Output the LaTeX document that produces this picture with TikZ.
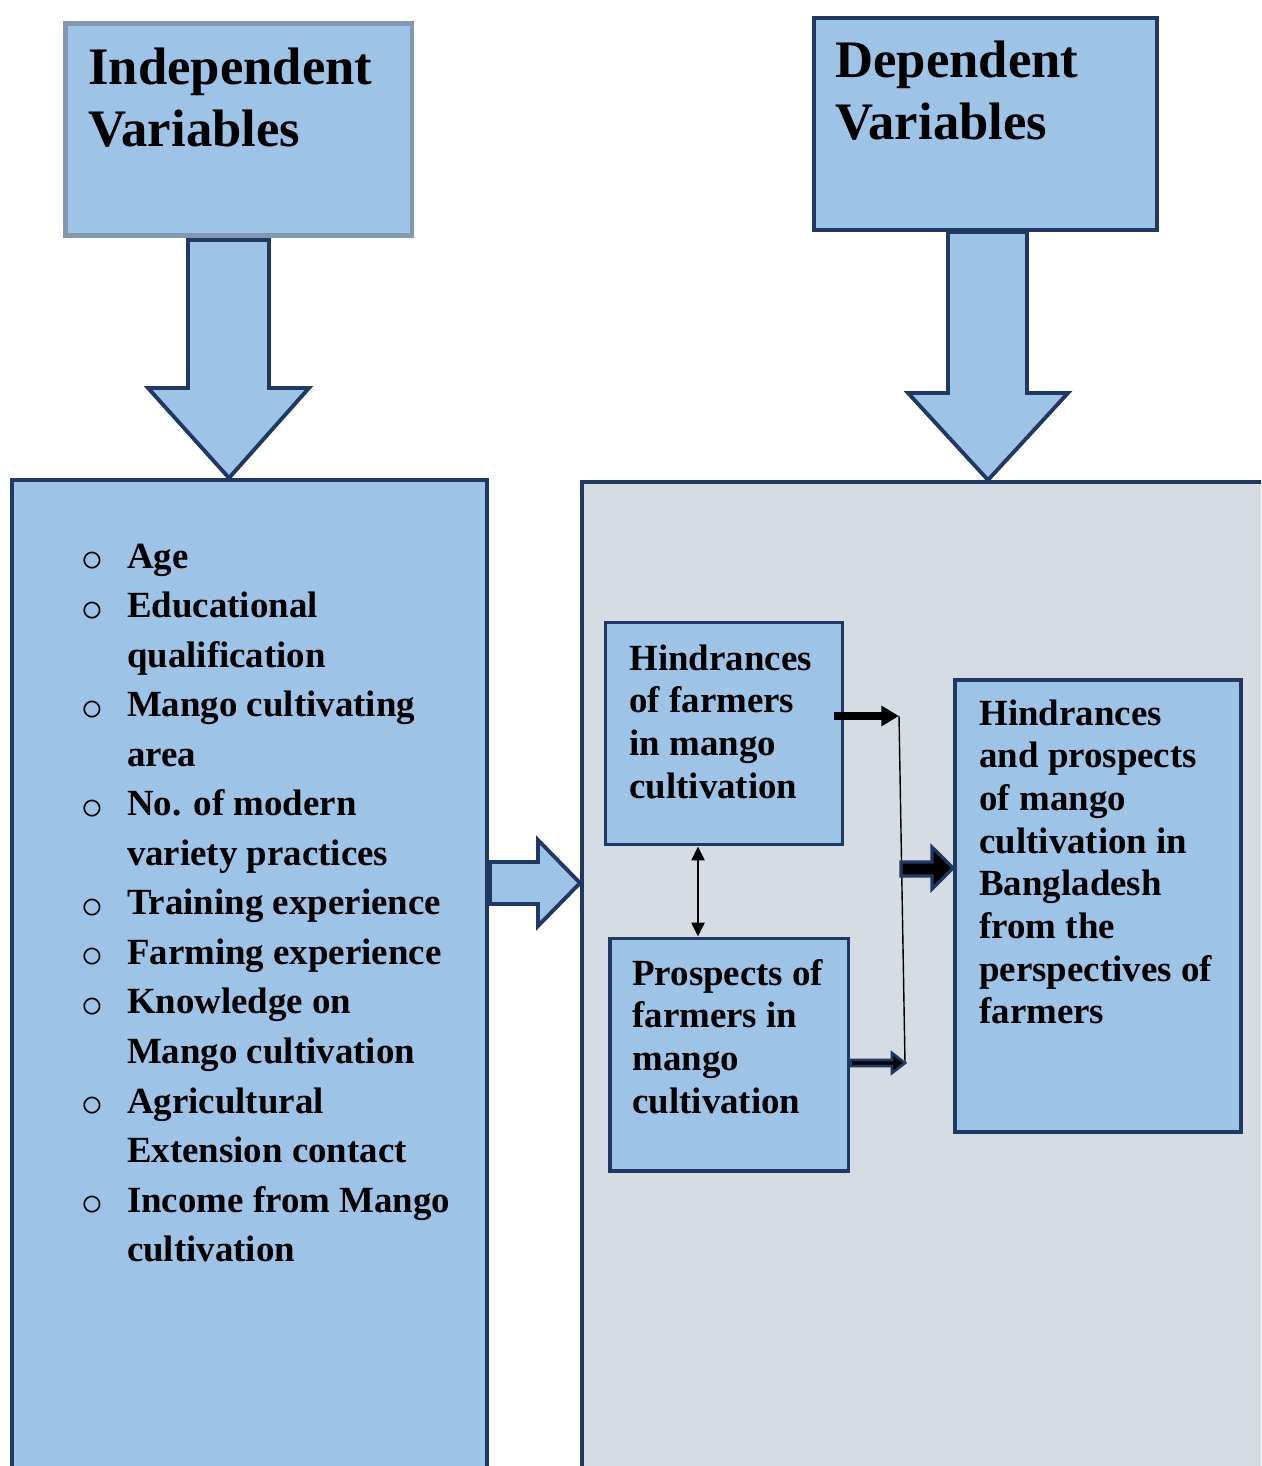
\documentclass[tikz,border=0pt]{standalone}
\usepackage{fontspec}
\setmainfont{Liberation Serif}
\usetikzlibrary{arrows.meta,calc,fit}
\definecolor{boxblue}{HTML}{9DC3E6}
\definecolor{navyline}{HTML}{203864}
\definecolor{greyline}{HTML}{8497B0}
\definecolor{panelgrey}{HTML}{D6DCE4}
\def\chartline{2.2pt}
\def\chartbullet{\raisebox{-2pt}{\fontsize{24}{28}\selectfont$\circ$}}

\begin{document}
\begin{tikzpicture}[
            x=0.02cm, y=-0.02cm,
            varbox/.style={%
                rectangle, draw=navyline, fill=boxblue,%
                line width=\chartline, inner sep=0pt%
            },
            panel/.style={%
                rectangle, draw=navyline, fill=panelgrey,%
                line width=\chartline, inner sep=0pt%
            },
            blockarrow/.style={%
                draw=navyline, fill=boxblue, line width=\chartline, line join=miter%
            },
            titletext/.style={%
                anchor=base west, inner sep=0pt,%
                font=\fontsize{30}{35}\selectfont\bfseries%
            },
            listtext/.style={%
                anchor=base west, inner sep=0pt,%
                font=\fontsize{21}{28.2}\selectfont\bfseries%
            },
            boxtext/.style={%
                anchor=base west, inner sep=0pt,%
                font=\fontsize{21}{24.3}\selectfont\bfseries%
            },
            thickarrow/.style={line width=5pt,-{Triangle[length=10pt,width=11pt]}},
            dblarrow/.style={line width=1.1pt,%
                {Triangle[length=8pt,width=7.5pt]}-{Triangle[length=8pt,width=7.5pt]}}
        ]

        \clip (0,0) rectangle (1261,1466);

        % Define nodes
        \node (indep) [varbox, draw=greyline, line width=2.8pt,%
            fit={(65.5,23.5) (412,235.5)}] {};
        \node (dep) [varbox, fit={(814,18) (1157,230)}] {};

        % down arrows
        \draw [blockarrow] (188,240) -- (269,240) -- (269,388) -- (309,388)
            -- (229,478) -- (148,388) -- (188,388) -- cycle;
        \draw [blockarrow] (948,232) -- (1027,232) -- (1027,393) -- (1068,393)
            -- (988,480) -- (908,393) -- (948,393) -- cycle;

        \node (factors) [varbox, fit={(12,480) (487,1520)}] {};
        \node (outcome) [panel, fit={(582,482) (1300,1520)}] {};

        % arrow between panels
        \draw [blockarrow] (490,862) -- (538,862) -- (538,840) -- (580,883)
            -- (538,926) -- (538,904) -- (490,904) -- cycle;

        \node (hind) [varbox, fit={(605.5,622.5) (842.5,844.5)}] {};
        \node (prosp) [varbox, fit={(610,938.5) (848.5,1171)}] {};
        \node (result) [varbox, fit={(955,680) (1241,1132)}] {};

        \node (indeptitle) [titletext] at (88,85) {%
            \begin{tabular}[t]{@{}l@{}}Independent\\Variables\end{tabular}%
        };
        \node (deptitle) [titletext] at (835,78) {%
            \begin{tabular}[t]{@{}l@{}}Dependent\\Variables\end{tabular}%
        };
        \node (factorlist) [listtext] at (81,568) {%
            \begin{tabular}[t]{@{}p{26pt}@{}l@{}}
                \chartbullet & Age\\
                \chartbullet & Educational\\
                             & qualification\\
                \chartbullet & Mango cultivating\\
                             & area\\
                \chartbullet & No. of modern\\
                             & variety practices\\
                \chartbullet & Training experience\\
                \chartbullet & Farming experience\\
                \chartbullet & Knowledge on\\
                             & Mango cultivation\\
                \chartbullet & Agricultural\\
                             & Extension contact\\
                \chartbullet & Income from Mango\\
                             & cultivation
            \end{tabular}%
        };
        \node (hindtext) [boxtext] at (629,670) {%
            \begin{tabular}[t]{@{}l@{}}Hindrances\\of farmers\\in mango\\cultivation\end{tabular}%
        };
        \node (prosptext) [boxtext] at (632,985) {%
            \begin{tabular}[t]{@{}l@{}}Prospects of\\farmers in\\mango\\cultivation\end{tabular}%
        };
        \node (resulttext) [boxtext] at (979,725) {%
            \begin{tabular}[t]{@{}l@{}}Hindrances\\and prospects\\of mango\\cultivation in\\Bangladesh\\from the\\perspectives of\\farmers\end{tabular}%
        };

        % connectors
        \coordinate (link) at (698,0);
        \coordinate (joinTop) at (899,716);
        \coordinate (joinBot) at (905,1063);

        \draw [dblarrow] (hind.south -| link) -- (prosp.north -| link);
        \draw [thickarrow] ($(hind.east |- joinTop)+(-10,0)$) -- (joinTop);
        \draw [line width=0.8pt] (joinTop) -- (joinBot);

        \draw [blockarrow, fill=black, line width=1.5pt]
            (prosp.east |- 0,1060) -- (892,1060) -- (892,1053) -- (joinBot)
            -- (892,1073) -- (892,1066) -- (prosp.east |- 0,1066) -- cycle;
        \draw [blockarrow, fill=black, line width=1.8pt]
            (901,862) -- (932,862) -- (932,847) -- (result.west |- 0,868)
            -- (932,889) -- (932,876) -- (901,876) -- cycle;

        \end{tikzpicture}
\end{document}
